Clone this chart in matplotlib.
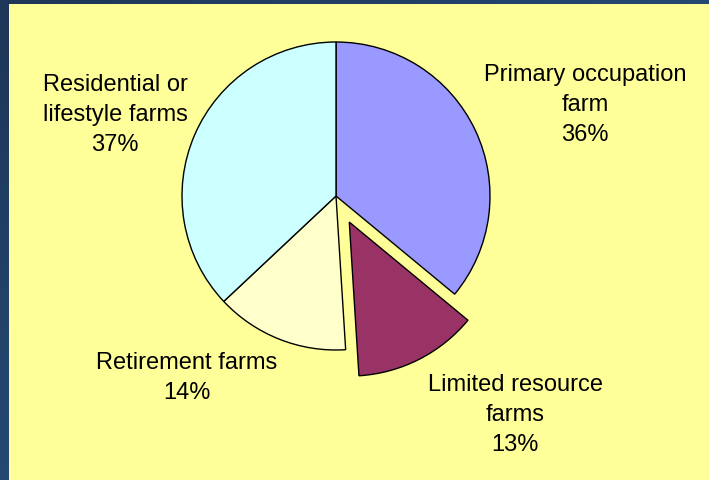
import matplotlib
matplotlib.use("Agg")
import numpy as np
import matplotlib.pyplot as plt
from matplotlib.patches import Rectangle
from matplotlib.colors import LinearSegmentedColormap

plt.rcParams['font.family'] = ['Liberation Sans', 'DejaVu Sans']

# данные
labels = ["Primary occupation\nfarm", "Limited resource\nfarms",
          "Retirement farms", "Residential or\nlifestyle farms"]
shares = [36, 13, 14, 37]
colors = ["#9999FF", "#993366", "#FFFFCC", "#CCFFFF"]
explode = [0, 0.19, 0, 0]
# центры подписей в пикселях (x, y сверху)
label_pos = [(585, 105), (515, 415), (187, 378), (115, 115)]

W, H = 709, 481
fig = plt.figure(figsize=(W / 100, H / 100), dpi=100, facecolor="#1f3d63")

# синий градиентный фон
bg = fig.add_axes([0, 0, 1, 1], zorder=-10)
gx, gy = np.meshgrid(np.linspace(0, 1, 200), np.linspace(0, 1, 200))
blue = LinearSegmentedColormap.from_list("b", ["#1e3658", "#2b5b8c"])
bg.imshow((gx + gy) / 2, cmap=blue, aspect="auto", extent=[0, 1, 0, 1], origin="upper")
bg.axis("off")
bg.add_patch(Rectangle((9 / W, 0), 1 - 9 / W, 1 - 5 / H, transform=bg.transAxes,
                       facecolor="#FFFF99", edgecolor="none", zorder=3))

ax = fig.add_axes([0, 0, 1, 1], zorder=2)
ax.set_facecolor("none")
ax.pie(shares, colors=colors, explode=explode, startangle=90, counterclock=False,
       wedgeprops=dict(edgecolor="black", linewidth=1))
r = 154.0
cx, cy = 336, 197
ax.set_xlim(-cx / r, (W - cx) / r)
ax.set_ylim(-(H - cy) / r, cy / r)
ax.set_aspect("equal")
ax.axis("off")

for lab, s, (px, py) in zip(labels, shares, label_pos):
    fig.text(px / W, 1 - py / H, f"{lab}\n{s}%", ha="center", va="center",
             fontsize=17, linespacing=1.45, color="black", zorder=5)

fig.savefig("out.png", dpi=100, facecolor=fig.get_facecolor())
